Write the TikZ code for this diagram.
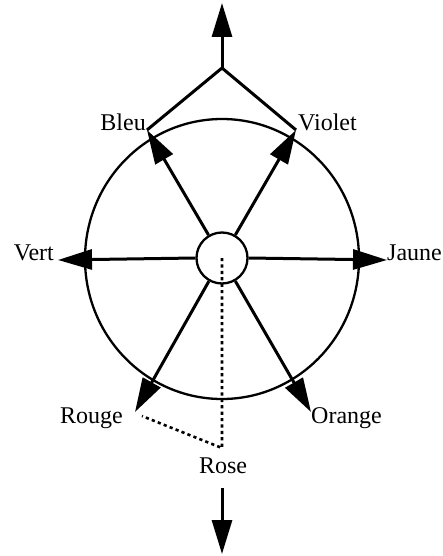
\documentclass[tikz,border=0pt]{standalone}
\usepackage{fontspec}
\setmainfont{Liberation Serif}
\usetikzlibrary{arrows.meta}
\begin{document}
\begin{tikzpicture}[x=1pt,y=-1pt,
  thick line/.style={line width=3pt},
  arr/.style={thick line,-{Triangle[length=34pt,width=20pt]}},
  dotline/.style={line width=2.6pt,dash pattern=on 3.2pt off 3.2pt},
  lbl/.style={font=\fontsize{24}{27}\selectfont,inner sep=0pt}]
\useasboundingbox (0,0) rectangle (442,556);
% circles
\draw[line width=2.3pt] (222,259) ellipse [x radius=137, y radius=140];
\node[draw,circle,line width=2.3pt,minimum size=51pt,inner sep=0pt] (hub) at (222,258) {};
\coordinate (c) at (222,258);
% tips
\coordinate (bleuT) at (147,130);
\coordinate (violetT) at (296,130);
\coordinate (vertT) at (58,260);
\coordinate (jauneT) at (387,260);
\coordinate (rougeT) at (135,412);
\coordinate (orangeT) at (311,412);
\coordinate (apex) at (222,68);
\coordinate (topT) at (222,3);
\coordinate (roseC) at (222,448);
\coordinate (downS) at (222,488);
\coordinate (downT) at (222,554);
% arrows from hub
\draw[arr] (hub) -- (bleuT);
\draw[arr] (hub) -- (violetT);
\draw[arr] (hub.west) -- (vertT);
\draw[arr] (hub.east) -- (jauneT);
\draw[arr] (hub) -- (rougeT);
\draw[arr] (hub) -- (orangeT);
% top
\draw[thick line,line join=miter] (bleuT) -- (apex) -- (violetT);
\draw[arr] (apex) -- (topT);
% dotted
\draw[dotline] (c) -- (roseC) -- (142,416);
\draw[arr] (downS) -- (downT);
% labels
\node[lbl,anchor=base east] (bleu) at (146,131) {Bleu};
\node[lbl,anchor=base west] (violet) at (298,131) {Violet};
\node[lbl,anchor=base east] (vert) at (54,260) {Vert};
\node[lbl,anchor=base west] (jaune) at (387,260) {Jaune};
\node[lbl,anchor=base east] (rouge) at (123,423) {Rouge};
\node[lbl,anchor=base west] (orange) at (311,423) {Orange};
\node[lbl,anchor=base] (rose) at (223,473) {Rose};
\end{tikzpicture}
\end{document}
